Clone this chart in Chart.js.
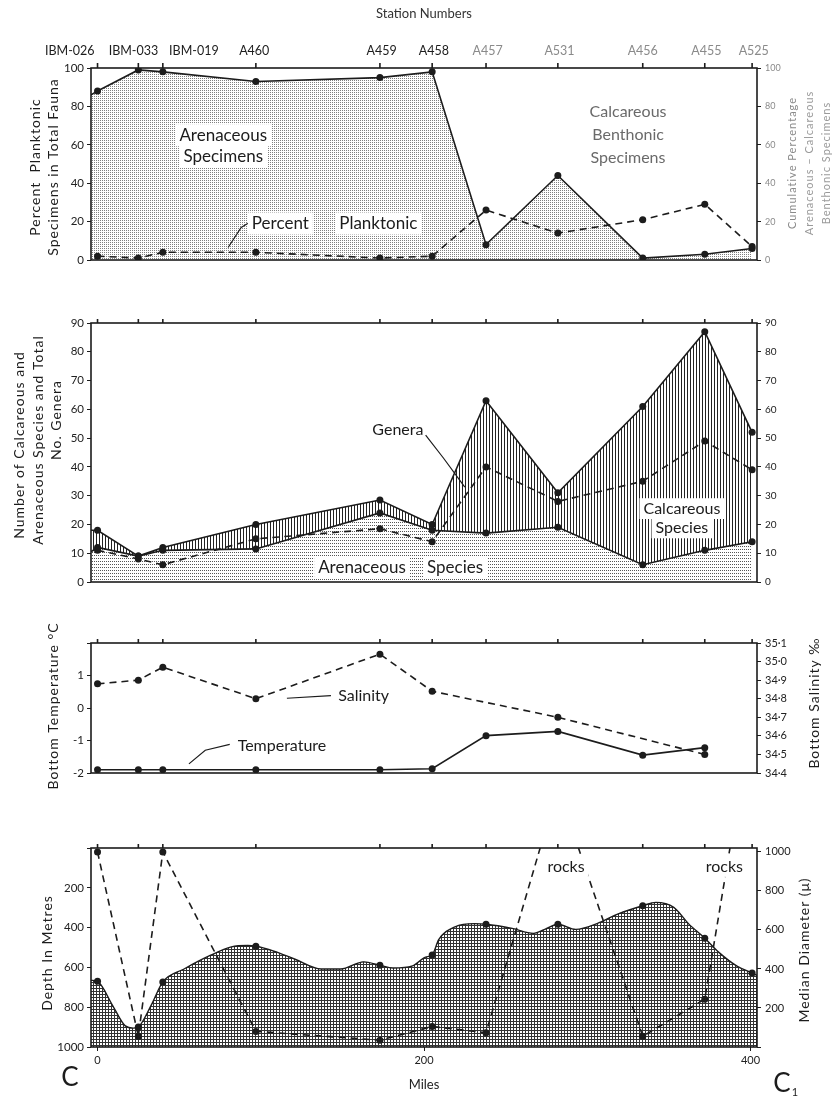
<!DOCTYPE html>
<html>
<head>
<meta charset="utf-8">
<script src="https://cdn.jsdelivr.net/npm/chart.js@4.4.1/dist/chart.umd.min.js"></script>
<style>
  body { margin: 0; background: #fff; }
  #wrap { position: relative; width: 833px; height: 1097px; overflow: hidden; }
  canvas { position: absolute; left: 0; }
</style>
</head>
<body>
<div id="wrap">
  <canvas id="c1" width="833" height="290" style="top:0px"></canvas>
  <canvas id="c2" width="833" height="300" style="top:300px"></canvas>
  <canvas id="c3" width="833" height="170" style="top:620px"></canvas>
  <canvas id="c4" width="833" height="277" style="top:820px"></canvas>
</div>
<script>
// stations along the section (miles from C)
const stationNames = ['IBM-026', 'IBM-033', 'IBM-019', 'A460', 'A459', 'A458', 'A457', 'A531', 'A456', 'A455', 'A525'];
const stationMiles = [0, 25, 40, 97, 173, 205, 238, 282, 334, 372, 401];
const milesMin = -4, milesMax = 404;
const milesTicks = [0, 200, 400];

// panel 1 - percentages
const arenPctEdge = 86;
const arenPct = [88, 99, 98, 93, 95, 98, 8, 44, 1, 3, 6];
const planktonicPct = [2, 1, 4, 4, 1, 2, 26, 14, 21, 29, 7];

// panel 2 - species counts
const arenSpeciesEdge = 10.5;
const totalSpeciesEdge = 18;
const arenSpecies = [12, 9, 11, 11.5, 24, 18, 17, 19, 6, 11, 14];
const totalSpecies = [18, 9, 12, 20, 28.5, 20, 63, 31, 61, 87, 52];
const genera = [11, 8, 6, 15, 18.5, 14, 40, 28, 35, 49, 39];

// panel 3 - bottom temperature and salinity
const temperature = [-1.9, -1.9, -1.9, -1.9, -1.9, -1.87, -0.85, -0.72, -1.45, -1.22, null];
const salinity = [34.88, 34.90, 34.97, 34.80, 35.04, 34.84, null, 34.70, null, 34.50, null];
const salinityTicks = [34.4, 34.5, 34.6, 34.7, 34.8, 34.9, 35.0, 35.1];

// panel 4 - depth profile and median diameter
const profileMiles = [-4, 0, 9, 17, 22, 25, 33, 40, 53, 69, 82, 92, 97, 108, 121, 137, 149, 163, 173, 181, 193, 201, 205, 209, 219, 231, 238, 254, 267, 274, 282, 293, 306, 319, 334, 342, 353, 362, 372, 381, 392, 401, 404];
const profileDepth = [665, 670, 788, 894, 905, 899, 788, 673, 608, 540, 497, 490, 494, 518, 559, 608, 608, 572, 589, 603, 592, 548, 538, 461, 396, 380, 383, 404, 429, 409, 383, 409, 380, 331, 290, 273, 298, 380, 453, 527, 595, 628, 640];
// A531 and A525 are "rocks" (off scale)
const medianDiam = [1000, 55, 1000, 80, 35, 105, 73, 1330, 55, 245, 1700];

// the three IBM labels are pushed apart so they don't collide
const labelNudge = [-17, -3, 19, -1, 1, 1, 1, 1, 0, 1, 1];

Chart.defaults.font.family = "Lato, 'Open Sans', sans-serif";
Chart.defaults.color = '#222';
Chart.defaults.animation = false;

const INK = '#1c1c1c';

function pts(arr) {
  return stationMiles.map((m, i) => ({ x: m, y: arr[i] }));
}

function makePattern(w, h, draw) {
  const c = document.createElement('canvas');
  c.width = w; c.height = h;
  const g = c.getContext('2d');
  g.fillStyle = '#fff';
  g.fillRect(0, 0, w, h);
  draw(g);
  return g.createPattern(c, 'repeat');
}

const stipple = makePattern(2, 2, g => { g.fillStyle = '#808080'; g.fillRect(0, 0, 1, 1); });
const rowDots = makePattern(2, 3, g => { g.fillStyle = '#555'; g.fillRect(0, 0, 1, 1); });
const vHatch = makePattern(3, 1, g => { g.fillStyle = '#222'; g.fillRect(0, 0, 1, 1); });
const grid = makePattern(3, 3, g => { g.fillStyle = '#333'; g.fillRect(0, 0, 3, 1); g.fillRect(0, 0, 1, 3); });

// frame, station ticks, notes, leaders and axis titles
const sketchPlugin = {
  id: 'sketch',
  afterDraw(chart) {
    const o = chart.options.plugins.sketch || {};
    const ctx = chart.ctx, a = chart.chartArea, sx = chart.scales.x;
    ctx.save();
    (o.leaders || []).forEach(l => {
      const ys = chart.scales[l.axis || 'y'];
      ctx.beginPath();
      l.pts.forEach((p, i) => {
        const px = sx.getPixelForValue(p[0]), py = ys.getPixelForValue(p[1]);
        if (i) ctx.lineTo(px, py); else ctx.moveTo(px, py);
      });
      ctx.strokeStyle = INK; ctx.lineWidth = 1.2; ctx.setLineDash([]);
      ctx.stroke();
    });
    (o.notes || []).forEach(n => {
      const ys = chart.scales[n.axis || 'y'];
      const px = sx.getPixelForValue(n.x), py = ys.getPixelForValue(n.y);
      const size = n.size || 16;
      ctx.font = size + 'px Lato';
      ctx.textAlign = 'center'; ctx.textBaseline = 'middle';
      if (n.bg) {
        const w = ctx.measureText(n.text).width + 8;
        ctx.fillStyle = '#fff';
        ctx.fillRect(px - w / 2, py - size * 0.65, w, size * 1.3);
      }
      ctx.fillStyle = n.color || INK;
      ctx.fillText(n.text, px, py);
    });
    ctx.strokeStyle = INK; ctx.lineWidth = 1.6; ctx.setLineDash([]);
    ctx.strokeRect(a.left, a.top, a.right - a.left, a.bottom - a.top);
    if (o.stationTicks) {
      stationMiles.forEach(m => {
        const px = sx.getPixelForValue(m);
        ctx.beginPath(); ctx.moveTo(px, a.top); ctx.lineTo(px, a.top - o.stationTicks); ctx.stroke();
      });
    }
    (o.titles || []).forEach(t => {
      ctx.save();
      ctx.translate(t.x, t.y);
      if (t.rot !== 0) ctx.rotate(-Math.PI / 2);
      ctx.font = (t.size || 14) + 'px Lato';
      ctx.fillStyle = t.color || INK;
      ctx.textAlign = 'center'; ctx.textBaseline = 'middle';
      if ('letterSpacing' in ctx) ctx.letterSpacing = t.spacing || '1px';
      ctx.fillText(t.text, 0, 0);
      ctx.restore();
    });
    ctx.restore();
  }
};

function yAxis(opts, width, pos) {
  return Object.assign({
    position: pos || 'left',
    afterFit: s => { s.width = width; },
    grid: { drawOnChartArea: false, tickLength: 4, color: INK },
    border: { display: false },
    ticks: { font: { size: 11 }, padding: 3 }
  }, opts);
}

const hiddenX = { type: 'linear', min: milesMin, max: milesMax, display: false };

const solid = { borderColor: INK, borderWidth: 1.6, pointRadius: 3.5, pointBackgroundColor: INK, pointBorderWidth: 0, tension: 0 };
const dashed = Object.assign({}, solid, { borderDash: [7, 5], fill: false });

// ---------- panel 1 ----------
new Chart(document.getElementById('c1'), {
  type: 'line',
  data: {
    datasets: [
      Object.assign({}, dashed, { label: 'Percent Planktonic', data: pts(planktonicPct) }),
      Object.assign({}, solid, {
        label: 'Arenaceous specimens',
        data: [{ x: milesMin, y: arenPctEdge }].concat(pts(arenPct)),
        pointRadius: c => c.dataIndex === 0 ? 0 : 3.5,
        fill: 'origin', backgroundColor: stipple
      })
    ]
  },
  options: {
    responsive: false,
    layout: { padding: { bottom: 30 } },
    plugins: {
      legend: { display: false }, tooltip: { enabled: false },
      sketch: {
        stationTicks: 5,
        notes: [
          { text: 'Arenaceous', x: 77, y: 65, size: 17, bg: true },
          { text: 'Specimens', x: 77, y: 54, size: 17, bg: true },
          { text: 'Calcareous', x: 325, y: 77, size: 16, color: '#6a6a6a' },
          { text: 'Benthonic', x: 325, y: 65, size: 16, color: '#6a6a6a' },
          { text: 'Specimens', x: 325, y: 53, size: 16, color: '#6a6a6a' },
          { text: 'Percent', x: 112, y: 19, size: 17, bg: true },
          { text: 'Planktonic', x: 172, y: 19, size: 17, bg: true }
        ],
        leaders: [{ pts: [[94, 20], [88, 17], [80, 6.5]] }],
        titles: [
          { text: 'Percent  Planktonic', x: 35, y: 167, size: 14 },
          { text: 'Specimens in Total Fauna', x: 53, y: 167, size: 14 },
          { text: 'Cumulative Percentage', x: 792, y: 163, size: 11, color: '#8a8a8a' },
          { text: 'Arenaceous – Calcareous', x: 809, y: 163, size: 11, color: '#9a9a9a' },
          { text: 'Benthonic Specimens', x: 826, y: 163, size: 11, color: '#9a9a9a' }
        ]
      }
    },
    scales: {
      x: hiddenX,
      xTop: {
        type: 'linear', position: 'top', min: milesMin, max: milesMax,
        afterBuildTicks: s => { s.ticks = stationMiles.map((v, i) => ({ value: v + labelNudge[i] })); },
        afterFit: s => { s.height = 68; },
        ticks: {
          autoSkip: false, maxRotation: 0, padding: 10,
          font: { size: 12.5 },
          color: c => c.index >= 6 ? '#8a8a8a' : INK,
          callback: (v, i) => stationNames[i]
        },
        grid: { display: false, drawTicks: false },
        border: { display: false },
        title: { display: true, text: 'Station Numbers', font: { size: 13 }, color: '#333', padding: { top: 6, bottom: 0 } }
      },
      y: yAxis({ min: 0, max: 100, ticks: { stepSize: 20, font: { size: 11.5 }, padding: 3 } }, 91),
      y2: yAxis({ min: 0, max: 100, ticks: { stepSize: 20, font: { size: 9 }, padding: 4, color: '#8a8a8a' } }, 76, 'right')
    }
  },
  plugins: [sketchPlugin]
});

// ---------- panel 2 ----------
new Chart(document.getElementById('c2'), {
  type: 'line',
  data: {
    datasets: [
      Object.assign({}, dashed, { label: 'Genera', data: pts(genera) }),
      Object.assign({}, solid, {
        label: 'Arenaceous species',
        data: [{ x: milesMin, y: arenSpeciesEdge }].concat(pts(arenSpecies)),
        pointRadius: c => c.dataIndex === 0 ? 0 : 3.5,
        fill: 'origin', backgroundColor: rowDots
      }),
      Object.assign({}, solid, {
        label: 'Total species',
        data: [{ x: milesMin, y: totalSpeciesEdge }].concat(pts(totalSpecies)),
        pointRadius: c => c.dataIndex === 0 ? 0 : 3.5,
        fill: '-1', backgroundColor: vHatch
      })
    ]
  },
  options: {
    responsive: false,
    layout: { padding: { top: 23, bottom: 18 } },
    plugins: {
      legend: { display: false }, tooltip: { enabled: false },
      sketch: {
        stationTicks: 4,
        notes: [
          { text: 'Genera', x: 184, y: 53, size: 16 },
          { text: 'Calcareous', x: 358, y: 25.5, size: 16, bg: true },
          { text: 'Species', x: 358, y: 18.8, size: 16, bg: true },
          { text: 'Arenaceous', x: 162, y: 5.2, size: 17, bg: true },
          { text: 'Species', x: 219, y: 5.2, size: 17, bg: true }
        ],
        leaders: [{ pts: [[201, 51], [212, 43], [225, 33]] }],
        titles: [
          { text: 'Number of Calcareous and', x: 19, y: 145, size: 14 },
          { text: 'Arenaceous Species and Total', x: 38, y: 140, size: 14 },
          { text: 'No. Genera', x: 56, y: 120, size: 14 }
        ]
      }
    },
    scales: {
      x: hiddenX,
      y: yAxis({ min: 0, max: 90, ticks: { stepSize: 10, font: { size: 11.5 }, padding: 3 } }, 91),
      y2: yAxis({ min: 0, max: 90, ticks: { stepSize: 10, font: { size: 10 }, padding: 4 } }, 76, 'right')
    }
  },
  plugins: [sketchPlugin]
});

// ---------- panel 3 ----------
new Chart(document.getElementById('c3'), {
  type: 'line',
  data: {
    datasets: [
      Object.assign({}, dashed, { label: 'Salinity', data: pts(salinity), yAxisID: 'y2', spanGaps: true }),
      Object.assign({}, solid, { label: 'Temperature', data: pts(temperature), yAxisID: 'y', spanGaps: true, fill: false })
    ]
  },
  options: {
    responsive: false,
    layout: { padding: { top: 23, bottom: 17 } },
    plugins: {
      legend: { display: false }, tooltip: { enabled: false },
      sketch: {
        stationTicks: 4,
        notes: [
          { text: 'Salinity', x: 163, y: 0.36, size: 16 },
          { text: 'Temperature', x: 113, y: -1.15, size: 16 }
        ],
        leaders: [
          { pts: [[143, 0.38], [116, 0.3]] },
          { pts: [[81, -1.12], [66, -1.3], [56, -1.72]] }
        ],
        titles: [
          { text: 'Bottom Temperature °C', x: 53, y: 86, size: 14 },
          { text: 'Bottom Salinity ‰', x: 814, y: 83, size: 14 }
        ]
      }
    },
    scales: {
      x: hiddenX,
      y: yAxis({ min: -2, max: 2, ticks: { stepSize: 1, font: { size: 11.5 }, padding: 3, callback: v => v === 2 ? '' : v } }, 91),
      y2: yAxis({
        min: 34.4, max: 35.1,
        afterBuildTicks: s => { s.ticks = salinityTicks.map(v => ({ value: v })); },
        ticks: { font: { size: 11 }, padding: 4, callback: v => v.toFixed(1).replace('.', '·') }
      }, 76, 'right')
    }
  },
  plugins: [sketchPlugin]
});

// ---------- panel 4 ----------
new Chart(document.getElementById('c4'), {
  type: 'line',
  data: {
    datasets: [
      Object.assign({}, dashed, { label: 'Median diameter', data: pts(medianDiam), yAxisID: 'y2' }),
      Object.assign({}, solid, {
        label: 'Depth',
        data: profileMiles.map((m, i) => ({ x: m, y: profileDepth[i] })),
        yAxisID: 'y',
        cubicInterpolationMode: 'monotone',
        pointRadius: c => stationMiles.includes(profileMiles[c.dataIndex]) ? 3.5 : 0,
        borderWidth: 1.4,
        fill: { value: 1000 }, backgroundColor: grid
      })
    ]
  },
  options: {
    responsive: false,
    layout: { padding: { top: 28 } },
    plugins: {
      legend: { display: false }, tooltip: { enabled: false },
      sketch: {
        stationTicks: 4,
        notes: [
          { text: 'rocks', x: 287, y: 925, axis: 'y2', size: 16, bg: true },
          { text: 'rocks', x: 384, y: 925, axis: 'y2', size: 16, bg: true }
        ],
        titles: [
          { text: 'Depth In Metres', x: 47, y: 133, size: 14 },
          { text: 'Median Diameter (μ)', x: 804, y: 130, size: 14 },
          { text: 'C', x: 70, y: 258, size: 26, rot: 0, spacing: '0px' },
          { text: 'C', x: 782, y: 264, size: 26, rot: 0, spacing: '0px' },
          { text: '1', x: 795, y: 272, size: 11, rot: 0, spacing: '0px' }
        ]
      }
    },
    scales: {
      x: {
        type: 'linear', min: milesMin, max: milesMax,
        afterBuildTicks: s => { s.ticks = milesTicks.map(v => ({ value: v })); },
        afterFit: s => { s.height = 50; },
        ticks: { font: { size: 11 }, padding: 3, maxRotation: 0 },
        grid: { drawOnChartArea: false, tickLength: 4, color: INK },
        border: { display: false },
        title: { display: true, text: 'Miles', font: { size: 13 }, padding: { top: 0, bottom: 4 } }
      },
      y: yAxis({ min: 0, max: 1000, reverse: true, ticks: { stepSize: 200, font: { size: 11.5 }, padding: 3, callback: v => v === 0 ? '' : v } }, 91),
      y2: yAxis({ min: 0, max: 1020, afterBuildTicks: s => { s.ticks = [0, 200, 400, 600, 800, 1000].map(v => ({ value: v })); },
        ticks: { font: { size: 11 }, padding: 4, callback: v => v === 0 ? '' : v } }, 76, 'right')
    }
  },
  plugins: [sketchPlugin]
});
</script>
</body>
</html>
